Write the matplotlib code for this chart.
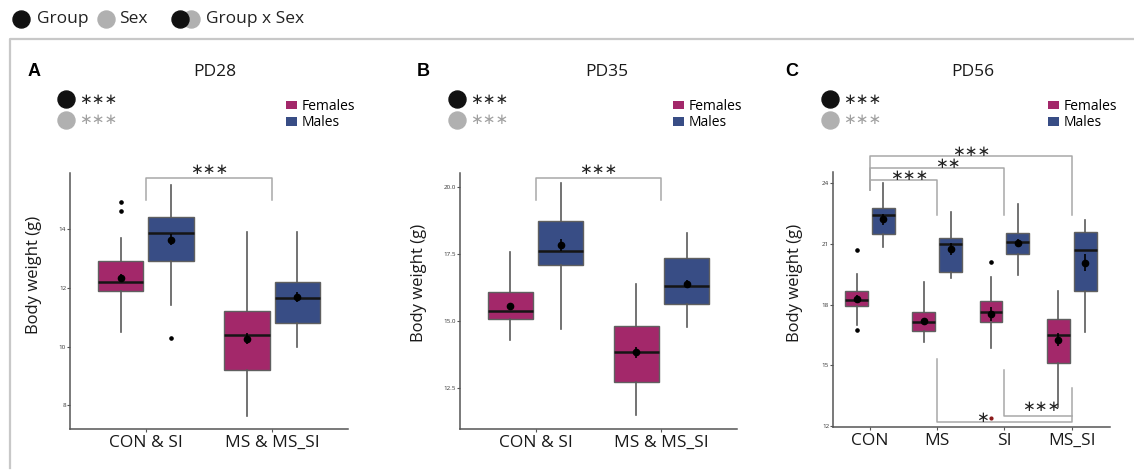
import matplotlib.pyplot as plt
from matplotlib.patches import Patch

plt.rcParams['font.family'] = ['Open Sans', 'DejaVu Sans']

W, H = 1134, 471
fem_color = '#a3286a'
male_color = '#384d85'
line_grey = '#a8a8a8'

# ---- data (whislo, q1, median, q3, whishi) ----
pd28_groups = ['CON & SI', 'MS & MS_SI']
pd28_f_box = [[10.5, 11.9, 12.2, 12.9, 13.7], [7.63, 9.2, 10.4, 11.2, 13.9]]
pd28_m_box = [[11.4, 12.9, 13.86, 14.42, 15.5], [10.0, 10.8, 11.65, 12.2, 13.9]]
pd28_f_mean = [12.34, 10.27]
pd28_m_mean = [13.64, 11.67]
pd28_f_sem = [0.14, 0.18]
pd28_m_sem = [0.17, 0.17]
pd28_f_out = [[14.9, 14.6], []]
pd28_m_out = [[10.3], []]

pd35_groups = ['CON & SI', 'MS & MS_SI']
pd35_f_box = [[14.29, 15.09, 15.38, 16.08, 17.59], [11.47, 12.71, 13.83, 14.81, 16.39]]
pd35_m_box = [[14.69, 17.09, 17.6, 18.74, 20.14], [14.79, 15.62, 16.32, 17.37, 18.3]]
pd35_f_mean = [15.57, 13.82]
pd35_m_mean = [17.84, 16.38]
pd35_f_sem = [0.11, 0.19]
pd35_m_sem = [0.23, 0.16]
pd35_f_out = [[], []]
pd35_m_out = [[], []]

pd56_groups = ['CON', 'MS', 'SI', 'MS_SI']
pd56_f_box = [[17.0, 17.94, 18.22, 18.68, 19.5], [16.13, 16.67, 17.13, 17.65, 19.1],
              [15.85, 17.13, 17.63, 18.2, 19.38], [12.95, 15.11, 16.5, 17.29, 18.69]]
pd56_m_box = [[20.84, 21.48, 22.43, 22.76, 24.0], [19.33, 19.63, 21.01, 21.31, 22.6],
              [19.44, 20.51, 21.11, 21.53, 23.0], [16.62, 18.69, 20.7, 21.6, 22.2]]
pd56_f_mean = [18.28, 17.2, 17.53, 16.26]
pd56_m_mean = [22.23, 20.74, 21.03, 20.07]
pd56_f_sem = [0.19, 0.1, 0.33, 0.31]
pd56_m_sem = [0.27, 0.29, 0.2, 0.43]
pd56_f_out = [[20.7, 16.72], [], [20.1], []]
pd56_m_out = [[], [], [], []]

STARS = '\u2217\u2217\u2217'

fig = plt.figure(figsize=(W / 100, H / 100), dpi=100)

# overlay in pixel coords for the page-level decoration
ov = fig.add_axes([0, 0, 1, 1])
ov.set_xlim(0, W)
ov.set_ylim(H, 0)
ov.axis('off')
ov.plot([10, 10, W], [468, 38.5, 38.5], color='#c8c8c8', lw=1.6)

# top key
ov.scatter([20.5], [19], s=150, color='#111111')
ov.text(37, 19, 'Group', fontsize=12.5, va='center', color='#222222')
ov.scatter([106], [19], s=150, color='#b0b0b0')
ov.text(119, 19, 'Sex', fontsize=12.5, va='center', color='#222222')
ov.scatter([191], [19], s=150, color='#b0b0b0')
ov.scatter([179.5], [19], s=150, color='#111111')
ov.text(206, 19, 'Group x Sex', fontsize=12.5, va='center', color='#222222')


def px_rect(l, r, t, b):
    return [l / W, 1 - b / H, (r - l) / W, (b - t) / H]


def bracket(ax, x1, x2, y, y1, y2, label, lx, dy, fs=11):
    ax.plot([x1, x1, x2, x2], [y1, y, y, y2], color=line_grey, lw=1.1, clip_on=False)
    ax.annotate(label, (lx, y), xytext=(0, dy), textcoords='offset pixels',
                ha='center', va='center', fontsize=fs, color='#222222',
                family='DejaVu Sans', annotation_clip=False)


def draw_panel(rect, groups, f_box, m_box, f_mean, m_mean, f_sem, m_sem, f_out, m_out,
               ylim, yticks, yticklabels, width, xlim, title, letter, title_x, letter_x,
               circ_x, leg_x, ylab_xy):
    ax = fig.add_axes(px_rect(*rect))
    ax.set_facecolor('none')
    pos = list(range(1, len(groups) + 1))
    off = 0.2
    for boxes, means, sems, outs, col, sgn in [(f_box, f_mean, f_sem, f_out, fem_color, -1),
                                              (m_box, m_mean, m_sem, m_out, male_color, 1)]:
        stats = []
        for b, o in zip(boxes, outs):
            stats.append(dict(whislo=b[0], q1=b[1], med=b[2], q3=b[3], whishi=b[4], fliers=o))
        p = [x + sgn * off for x in pos]
        ax.bxp(stats, positions=p, widths=width, patch_artist=True, showcaps=False,
               boxprops=dict(facecolor=col, edgecolor='#606060', lw=1.0),
               medianprops=dict(color='#151515', lw=1.8),
               whiskerprops=dict(color='#5a5a5a', lw=1.2),
               flierprops=dict(marker='o', ms=2.3, mfc='black', mec='black'))
        ax.errorbar(p, means, yerr=sems, fmt='o', ms=4.5, color='black', lw=1.2, zorder=5)
    ax.set_xlim(*xlim)
    ax.set_ylim(*ylim)
    ax.set_xticks(pos)
    ax.set_xticklabels(groups, fontsize=12.5, color='#1a1a1a')
    ax.set_yticks(yticks)
    ax.set_yticklabels(yticklabels, fontsize=4.5, color='#333333')
    ax.tick_params(axis='y', length=2, pad=0.8, color='#555555')
    ax.tick_params(axis='x', length=2.5, pad=2, color='#555555')
    for s in ['top', 'right']:
        ax.spines[s].set_visible(False)
    for s in ['left', 'bottom']:
        ax.spines[s].set_color('#555555')
        ax.spines[s].set_linewidth(1.1)
    ax.set_ylabel('Body weight (g)', fontsize=12, color='#1a1a1a')
    ax.yaxis.set_label_coords(*ylab_xy)

    # titles and panel letters
    ov.text(title_x, 72, title, fontsize=12.5, ha='center', va='center', color='#1a1a1a')
    ov.text(letter_x, 72, letter, fontsize=13, ha='center', va='center',
            fontweight='bold', family='Liberation Sans')
    # significance key
    ov.scatter([circ_x], [99], s=150, color='#111111')
    ov.scatter([circ_x], [119.5], s=150, color='#b0b0b0')
    ov.text(circ_x + 13, 99, STARS, fontsize=11, va='center', color='#222222',
            family='DejaVu Sans')
    ov.text(circ_x + 13, 119.5, STARS, fontsize=11, va='center', color='#a0a0a0',
            family='DejaVu Sans')
    # legend
    handles = [Patch(facecolor=fem_color, edgecolor='none', label='Females'),
               Patch(facecolor=male_color, edgecolor='none', label='Males')]
    ax.legend(handles=handles, loc='center left', bbox_to_anchor=(leg_x, 114.5),
              bbox_transform=ov.transData, frameon=False, fontsize=10,
              handlelength=0.8, handleheight=0.6, handletextpad=0.35,
              labelspacing=0.1, borderpad=0, borderaxespad=0)
    return ax


axA = draw_panel((70, 348, 173, 429), pd28_groups, pd28_f_box, pd28_m_box, pd28_f_mean,
                 pd28_m_mean, pd28_f_sem, pd28_m_sem, pd28_f_out, pd28_m_out,
                 (7.2, 15.9), [8, 10, 12, 14], ['8', '10', '12', '14'], 0.36, (0.4, 2.6),
                 'PD28', 'A', 215, 34.5, 66, 285.5, (-0.10, 0.60))
bracket(axA, 1, 2, 15.74, 14.98, 14.98, STARS, 1.5, 8)

axB = draw_panel((460, 737, 173, 429), pd35_groups, pd35_f_box, pd35_m_box, pd35_f_mean,
                 pd35_m_mean, pd35_f_sem, pd35_m_sem, pd35_f_out, pd35_m_out,
                 (10.96, 20.53), [12.5, 15.0, 17.5, 20.0], ['12.5', '15.0', '17.5', '20.0'],
                 0.36, (0.4, 2.6), 'PD35', 'B', 606.5, 423, 457, 673, (-0.119, 0.57))
bracket(axB, 1, 2, 20.35, 19.51, 19.51, STARS, 1.5, 8)

axC = draw_panel((833, 1110, 172, 427), pd56_groups, pd56_f_box, pd56_m_box, pd56_f_mean,
                 pd56_m_mean, pd56_f_sem, pd56_m_sem, pd56_f_out, pd56_m_out,
                 (11.94, 24.56), [12, 15, 18, 21, 24], ['12', '15', '18', '21', '24'], 0.34,
                 (0.45, 4.57), 'PD56', 'C', 973, 792, 830, 1048, (-0.108, 0.565))
bracket(axC, 1, 4, 25.33, 23.65, 22.42, STARS, 2.5, 5)
bracket(axC, 1, 3, 24.77, 23.65, 22.42, '\u2217\u2217', 2.16, 4)
bracket(axC, 1, 2, 24.15, 23.65, 22.42, STARS, 1.58, 4.5)
bracket(axC, 2, 4, 12.17, 15.3, 13.88, '\u2217', 2.67, 5)
bracket(axC, 3, 4, 12.5, 14.77, 12.5, STARS, 3.55, 9)
axC.plot([2.8], [12.4], marker='o', ms=2, color='#8b1a1a', clip_on=False)

fig.savefig('out.png', dpi=100)
